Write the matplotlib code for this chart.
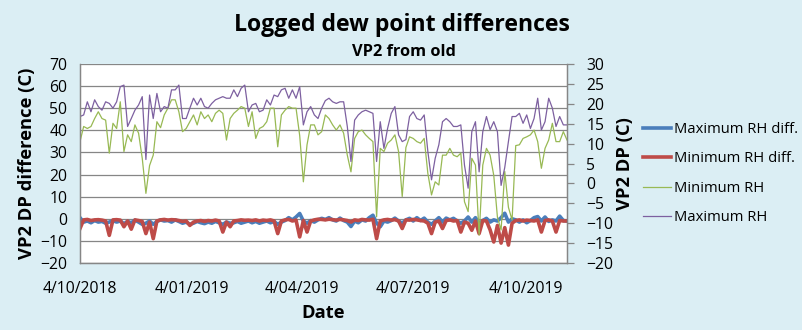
import matplotlib
matplotlib.use('Agg')
import matplotlib.pyplot as plt
import pandas as pd

start_date = '2018-10-04'
step_days = 3

max_rh_diff = [0.5,-1.5,-1.0,-1.8,-0.8,-1.5,-1.2,-2.0,-1.5,-0.8,
               -1.5,-1.0,-2.2,-1.2,-1.8,-0.6,-1.5,-2.5,-2.0,-1.0,
               -2.5,-1.2,-0.5,-1.0,-0.8,-1.5,-0.5,-1.2,-2.0,-1.5,
               -2.5,-2.0,-1.2,-1.8,-2.2,-1.5,-2.0,-1.2,-1.8,-2.5,
               -1.5,-2.0,-1.8,-1.2,-2.0,-1.5,-1.0,-1.8,-1.2,-2.0,
               -1.5,-1.0,-1.8,-1.2,-2.5,-1.5,-0.8,0.5,-0.5,0.8,
               2.4,-1.0,-2.0,-0.8,-1.5,-0.5,0.2,-0.3,0.5,-0.5,
               -1.0,0.3,-0.8,-1.5,-3.5,-1.0,-1.8,-0.5,-1.0,0.5,
               1.6,-2.0,-3.6,-1.0,-1.5,-0.8,0.3,-1.0,-2.0,-0.5,
               0.2,-1.0,0.5,-0.8,0.3,-1.5,-2.5,-1.0,0.5,-1.5,
               0.3,-0.5,0.2,-1.0,-2.0,-1.0,0.8,-1.5,0.5,-2.0,
               -0.8,0.2,-1.5,-0.5,-1.0,0.5,2.5,-1.5,0.0,-0.5,
               -1.5,-0.5,-1.8,-0.8,0.5,1.0,-1.0,0.8,-1.2,-0.5,
               -1.0,1.2,-0.8,-1.0]

min_rh_diff = [-4.4,-0.5,-0.3,-0.8,-0.5,-0.4,-0.6,-1.0,-7.5,-0.5,
               -0.4,-0.6,-3.6,-1.0,-4.7,-0.5,-0.8,-1.2,-6.7,-1.5,
               -9.0,-1.0,-0.5,-0.3,-0.6,-0.4,-0.5,-0.8,-1.2,-1.0,
               -3.0,-1.5,-1.0,-0.8,-1.2,-0.8,-1.0,-0.6,-1.0,-6.0,
               -1.5,-3.6,-1.0,-0.8,-0.5,-0.7,-0.6,-0.8,-0.5,-1.0,
               -0.6,-0.8,-0.5,-1.0,-6.7,-1.0,-0.5,-0.3,-1.0,-0.6,
               -8.2,-0.8,-6.0,-1.0,-0.5,-0.2,-0.3,-0.5,-0.2,-0.4,
               -0.6,-0.3,-0.5,-0.8,-1.5,-0.5,-0.8,-0.3,-0.5,-0.6,
               -0.2,-9.0,-1.0,-0.5,-0.3,-0.6,-0.4,-1.0,-4.4,-0.5,
               -0.6,-0.3,-0.5,-0.8,-1.0,-2.0,-6.7,-1.5,-1.0,-4.4,
               -0.8,-0.5,-1.0,-0.8,-6.0,-1.5,-2.0,-5.2,-1.0,-6.7,
               -0.8,-1.0,-5.0,-10.5,-3.0,-11.0,-4.0,-11.9,-2.0,-0.8,
               -0.5,-1.0,-0.6,-0.8,-1.0,-0.5,-6.0,-0.8,-0.5,-1.0,
               -6.0,-0.8,-1.0,-1.0]

min_rh = [10.5,14.3,13.8,14.3,16.3,18.0,16.3,15.9,7.6,15.1,
          13.8,20.5,8.0,12.2,10.5,14.7,12.6,6.3,-2.5,4.5,
          7.1,15.5,14.0,17.2,18.9,21.0,21.0,18.0,13.0,13.8,
          15.5,17.2,14.7,18.0,16.3,17.2,15.5,17.6,18.4,17.6,
          10.9,16.3,17.6,18.4,19.3,18.9,14.3,18.0,11.3,13.8,
          14.3,15.5,18.9,18.9,9.2,17.2,18.4,19.3,18.9,18.9,
          12.0,0.4,9.7,14.7,14.7,12.2,13.0,17.2,16.3,14.7,
          13.4,14.7,12.6,7.1,2.9,11.3,13.0,13.4,12.2,11.3,
          10.5,-8.4,8.8,8.0,10.1,10.9,12.2,8.0,-3.3,9.0,
          11.7,11.3,10.5,10.1,11.3,2.5,-2.9,0.4,-0.4,7.1,
          7.1,8.8,7.1,6.7,7.6,-4.6,-7.1,6.3,4.6,-13.0,
          4.6,8.8,7.1,2.0,-8.5,-11.7,3.0,-6.0,-9.2,9.5,
          9.7,11.3,11.7,12.2,13.4,10.5,3.8,8.8,10.9,15.1,
          10.5,10.5,13.0,10.9]

max_rh = [16.8,17.2,20.5,18.0,21.0,19.3,18.4,20.5,20.1,18.9,
          20.5,24.3,24.7,14.3,16.3,18.4,19.7,21.8,6.0,22.2,
          16.3,22.6,18.0,19.3,18.9,23.5,23.5,24.7,16.3,16.3,
          18.9,21.4,19.7,21.4,19.3,18.9,20.1,21.0,21.4,21.8,
          21.4,21.4,23.5,21.8,23.9,24.7,18.0,19.7,20.1,18.0,
          18.4,21.0,19.7,22.2,21.8,23.5,23.9,21.4,23.5,21.4,
          24.3,14.7,18.0,19.3,17.2,16.3,18.9,20.8,21.4,20.5,
          20.1,20.5,20.5,14.3,5.5,15.9,17.2,18.0,18.4,18.0,
          17.6,5.5,15.5,8.8,13.8,17.6,19.3,12.2,10.5,11.0,
          16.8,18.0,16.3,15.9,17.2,8.0,0.9,6.3,9.7,15.5,
          16.3,15.5,14.3,14.3,14.7,4.6,-1.2,13.0,15.5,2.9,
          13.0,16.8,13.5,15.5,13.0,-0.5,4.0,10.5,16.8,16.8,
          17.6,15.1,17.2,13.8,16.3,21.4,13.4,15.5,21.4,18.9,
          14.3,16.8,14.7,14.7]

xtick_dates = ['2018-10-04', '2019-01-04', '2019-04-04', '2019-07-04', '2019-10-04']
xtick_labels = ['4/10/2018', '4/01/2019', '4/04/2019', '4/07/2019', '4/10/2019']
x_end = '2019-11-07'

def dates_for(vals):
    return pd.date_range(start_date, periods=len(vals), freq=f'{step_days}D')

FONT = 'Open Sans'
plt.rcParams['font.family'] = [FONT, 'DejaVu Sans']
BG = '#dbeef4'
GRID = '#868686'
TXT = '#000000'

fig = plt.figure(figsize=(8.03, 3.30), dpi=100, facecolor=BG)
ax = fig.add_axes([80/803, 1-263/330, (567-80)/803, (263-64)/330])
ax.set_facecolor('white')
ax2 = ax.twinx()

l1, = ax.plot(dates_for(max_rh_diff), max_rh_diff, color='#4a7ebb', lw=2.6, label='Maximum RH diff.', zorder=3)
l2, = ax.plot(dates_for(min_rh_diff), min_rh_diff, color='#be4b48', lw=2.6, label='Minimum RH diff.', zorder=4)
l3, = ax2.plot(dates_for(min_rh), min_rh, color='#98b954', lw=0.9, label='Minimum RH')
l4, = ax2.plot(dates_for(max_rh), max_rh, color='#7d60a0', lw=0.9, label='Maximum RH')

ax.set_ylim(-20, 70)
ax.set_yticks(range(-20, 71, 10))
ax2.set_ylim(-20, 30)
ax2.set_yticks(range(-20, 31, 5))
ax.set_xlim(pd.Timestamp(start_date), pd.Timestamp(x_end))
ax.set_xticks(pd.to_datetime(xtick_dates))
ax.set_xticklabels(xtick_labels)

ax.grid(axis='y', color=GRID, lw=0.9)
ax.set_axisbelow(True)
for a in (ax, ax2):
    for s in a.spines.values():
        s.set_color(GRID)
        s.set_linewidth(0.9)
ax2.spines['top'].set_visible(False)
ax.spines['top'].set_visible(False)

ax.tick_params(axis='x', length=0, pad=13, labelsize=11.3, labelcolor=TXT)
ax.tick_params(axis='y', length=0, pad=9, labelsize=11.3, labelcolor=TXT)
ax2.tick_params(axis='y', length=5, width=0.9, color=GRID, pad=9, labelsize=11.3, labelcolor=TXT)

ax.set_ylabel('VP2 DP difference (C)', fontsize=13.2, fontweight='bold', labelpad=3)
ax2.set_ylabel('VP2 DP (C)', fontsize=13.2, fontweight='bold', labelpad=2)
ax.set_xlabel('Date', fontsize=13.2, fontweight='bold', labelpad=5)

fig.text(0.5, 1-25/330, 'Logged dew point differences', ha='center', va='center',
         fontsize=16.6, fontweight='bold')
fig.text(404/803, 1-52/330, 'VP2 from old', ha='center', va='center',
         fontsize=11.8, fontweight='bold')

fig.legend(handles=[l1, l2, l3, l4], loc='upper left', bbox_to_anchor=(637/803, 1-116/330),
           frameon=False, fontsize=10.6, handlelength=1.9, handletextpad=0.2,
           labelspacing=0.98, borderaxespad=0)

fig.savefig('out.png', dpi=100, facecolor=BG)
